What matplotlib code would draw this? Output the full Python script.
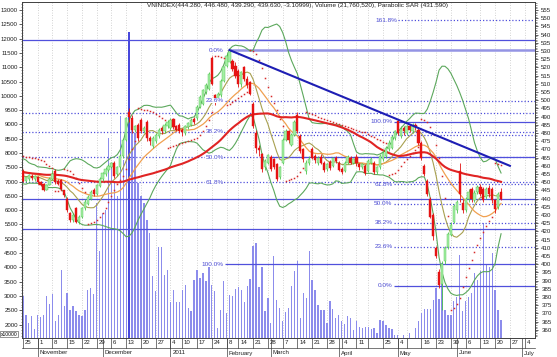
import numpy as np
import pandas as pd
import matplotlib
matplotlib.use("Agg")
import matplotlib.pyplot as plt
from matplotlib import transforms

plt.rcParams['font.family'] = ['Liberation Sans', 'DejaVu Sans']

# ---------------- data ----------------
holidays = ['2011-01-03', '2011-01-31', '2011-02-01', '2011-02-02', '2011-02-03',
            '2011-02-04', '2011-02-07', '2011-04-12', '2011-05-02', '2011-05-03']
axis_start, axis_end = '2010-10-25', '2011-07-08'

prior_closes = [468, 466, 463, 465, 461, 459, 457, 458, 455, 452,
                450, 453, 456, 455, 452, 449, 451, 454, 456, 453,
                451, 448, 450, 453, 455, 458, 456, 454, 457, 460,
                464, 462, 465, 461, 459, 462, 458, 460, 456, 457,
                454, 458, 455, 452, 454, 451, 455, 453, 456, 454]

opens = [457, 451, 452, 454, 452, 453, 450, 449, 445.5, 448.5,
         452, 457, 451, 451.5, 445, 440, 431, 427, 434, 426,
         429, 434, 437, 440, 445, 443, 447.5, 452, 455, 457.5,
         459.5, 462, 455, 459, 466, 476, 493, 489, 482, 485,
         488, 481, 487, 477, 472, 475, 478, 483, 481, 484,
         483, 488.5, 484, 485, 482, 480, 483.5, 485, 488.5, 489,
         496, 498, 505, 507, 526, 503, 500, 503, 512, 521,
         523.5, 524, 521, 518, 510, 520, 513, 511, 498, 480,
         471, 467.5, 459, 462, 465.5, 464, 461, 453, 462, 476,
         481, 473, 479, 491, 478, 470, 457, 462, 470, 466,
         462, 465.5, 462, 458, 462.5, 460, 465, 462, 458, 457,
         462, 465, 462, 465.5, 461, 459, 460, 457, 462, 462,
         456, 459, 464, 466, 470, 471, 477, 487.5, 478, 483,
         480, 484, 481, 485, 482, 474, 460, 451, 440, 430,
         410, 395, 388, 402, 410.5, 418, 426, 433, 457, 437.5,
         433, 440, 446, 439, 444, 447, 446, 441, 446.5, 446,
         439, 435, 444.28]
highs = [458, 454, 455, 455, 454.5, 454, 451, 449.5, 449, 453,
         457.5, 458, 452, 452, 445.5, 441, 432, 431.5, 435, 430,
         435, 439.5, 442, 445, 446.5, 449, 453, 456.5, 459, 461,
         462.5, 463, 460, 467, 477, 490, 495, 491, 485, 486,
         489, 484, 488, 478, 478, 480, 483, 484, 486, 488,
         489, 489, 485, 486, 483, 485, 487, 489, 490, 497,
         503, 507, 510.5, 517, 527, 504, 505, 513, 521, 528.5,
         530.6, 525, 523.5, 519, 518, 521, 514.5, 512, 499, 482,
         472.5, 468, 464, 467.5, 466.5, 465, 462, 460, 477, 482.5,
         482, 480, 488, 493, 479.5, 471, 463.5, 466, 471.5, 467,
         466, 467, 463, 462, 463.5, 465.5, 466, 463, 459, 463,
         466.5, 466, 465, 467, 462, 462, 461, 464, 465.5, 463,
         460, 467.5, 469.5, 472, 475.5, 479, 482, 488.5, 484, 484,
         485, 485.5, 486, 486, 483, 475, 461, 452, 441, 431,
         411, 397, 402, 411, 419.5, 425.5, 437, 439, 462, 440,
         441, 446, 447, 445, 448.5, 449, 447, 447, 448, 447,
         440, 444, 446.48]
lows = [450, 450, 451, 451.5, 451, 449, 447.5, 444.5, 445, 448,
        451.5, 449, 448, 445.5, 441, 432, 426, 425.5, 425, 424.5,
        428, 433, 436, 439, 441.5, 442, 447, 451, 454, 456.5,
        458.5, 452.5, 454, 458, 465, 475, 487, 480, 480.5, 475,
        480, 480, 475, 472.5, 471, 474, 477, 479.5, 480, 483,
        482, 482.5, 481, 480, 478, 479, 482.5, 484, 485.5, 488,
        495, 497, 504, 506, 509, 497, 499, 502, 511, 520,
        523, 518, 513.5, 508, 508, 512, 507.5, 503, 483, 468,
        466, 456.5, 457.5, 461, 457, 458, 450.5, 452, 461, 475,
        474, 472, 478, 480, 468, 462.5, 455, 460.5, 464, 461.5,
        460.5, 461, 456, 457, 457.5, 459, 461.5, 457, 455, 456,
        461, 461, 461, 460, 457.5, 458, 454.5, 456, 461, 455,
        455, 458, 463, 465, 469, 470, 476, 478.5, 477, 479,
        479, 480.5, 480, 482, 472.5, 463.5, 453.5, 441.5, 428, 415,
        403.5, 385.5, 372, 400, 409, 417, 425, 431, 438, 431.5,
        432, 438, 438, 438, 443, 441.5, 438, 440, 441, 437.5,
        431.5, 433.5, 439.29]
closes = [451, 453, 454.5, 452.5, 453.5, 450, 448.5, 445, 448.5, 452,
          455, 450, 449, 446, 442, 433, 427, 430, 426, 429,
          434, 438, 441, 444, 443, 448, 452, 455.5, 458, 460,
          461.5, 454, 459, 466, 476, 489, 490, 482, 484, 477,
          481, 483, 477, 475, 477, 479, 482, 481, 485, 487,
          488, 483.5, 482, 481, 480.5, 484, 486, 488, 487, 496,
          502, 506, 509, 516, 510, 501, 504, 512, 520, 527,
          529.5, 519, 515, 510, 517, 513, 509, 504, 484, 471,
          469.5, 458, 463, 466.5, 458, 459, 452, 459, 476, 481,
          476, 479, 487, 481, 469, 464, 462, 464, 465, 463.5,
          465, 462, 457.5, 461, 458.5, 464.5, 463, 457.5, 456, 462,
          465.5, 462, 464, 461.5, 459, 461, 455.5, 463, 464, 456,
          459, 466, 468, 471, 474, 477.5, 481, 480, 482.5, 481,
          484, 482, 485, 483.5, 474, 465, 455, 443, 429, 417,
          405, 387.5, 400, 410, 418.5, 424, 435.5, 438, 443, 433,
          440, 444, 439.5, 443.5, 447, 443, 439, 446, 443, 439,
          433.5, 442.74, 439.63]
volumes = [2990, 2350, 2040, 2290, 1850, 2350, 2270, 2350, 2990, 2730,
           3070, 2120, 2350, 3900, 2640, 3100, 2500, 2640, 2470, 2350,
           2290, 2520, 3200, 3280, 3080, 6240, 4560, 5900, 6000, 8520,
           7650, 7000, 6500, 9300, 7760, 9000, 12230, 9200, 8700, 6950,
           6480, 6250, 5660, 5200, 3690, 3160, 4730, 4730, 3740, 3900,
           2800, 3220, 2800, 2800, 3220, 3400, 2580, 2490, 3570, 3900,
           3630, 3800, 3510, 4150, 3400, 3160, 1880, 2520, 3510, 2410,
           3050, 2990, 3240, 3310, 3220, 2800, 3340, 3590, 4750, 4870,
           3300, 4010, 2470, 2930, 2060, 4400, 2870, 2580, 2120, 2430,
           2580, 3360, 3860, 4210, 2230, 3100, 2930, 4560, 3570, 3220,
           2700, 2520, 2500, 2060, 2810, 2550, 2230, 2320, 2120, 2035,
           2310, 2230, 1800, 2120, 1920, 1870, 1920, 1920, 1830, 1870,
           1700, 2150, 2120, 2000, 1870, 1830, 1650, 1650, 1500, 1650,
           1450, 1700, 1500, 1870, 2120, 2400, 2550, 2550, 2550, 2870,
           3280, 2900, 4150, 2520, 2350, 2350, 2840, 2960, 4420, 2470,
           2820, 2960, 3100, 3800, 3570, 3860, 5550, 4090, 4010, 4510,
           3220, 2520, 2170]

solid_levels = [536.5, 440.0, 421.3]
dotted_levels = [492.4]
partial_solid = (465.5, 84)      # level, start index
partial_dotted = (478.6, 84)
fib1_high, fib1_low = 530.6, 400.0
fib1_ratios = [0.0, 0.236, 0.382, 0.5, 0.618, 1.0]
fib2_low, fib2_high = 387.0, 487.0
fib2_ratios = [0.0, 0.236, 0.382, 0.5, 0.618, 1.0, 1.618]
trend_idx = [70, 165]
trend_val = [530.6, 460.0]
month_names = ['November', 'December', '2011', 'February', 'March', 'April', 'May', 'June', 'July']
hidden_week_labels = ['2011-04-18', '2011-05-09']
title = ("VNINDEX(444.280, 446.480, 439.290, 439.630, -3.10999), "
         "Volume (21,760,520), Parabolic SAR (431.590)")

# ---------------- calendar ----------------
dates = pd.bdate_range(axis_start, axis_end)
dates = dates[~dates.isin(pd.to_datetime(holidays))]
n = len(closes)
x = np.arange(n)
O, H, Lo, C = map(np.array, (opens, highs, lows, closes))
V = np.array(volumes)

allc = pd.Series(list(prior_closes) + list(closes))
sma10 = allc.rolling(10).mean().values[-n:]
sma20 = allc.rolling(20).mean().values[-n:]
sma50 = allc.rolling(50).mean().values[-n:]
sd20 = allc.rolling(20).std(ddof=0).values[-n:]
bb_up = sma20 + 2 * sd20
bb_dn = sma20 - 2 * sd20


def psar(high, low, start, af0=0.02, afmax=0.2):
    out = np.zeros(len(high))
    trend, ep, af, s = -1, low[0], af0, start
    for i in range(len(high)):
        if i > 0:
            s = s + af * (ep - s)
            if trend == -1:
                s = max(s, high[i - 1], high[max(i - 2, 0)])
                if high[i] > s:
                    trend, s, ep, af = 1, ep, high[i], af0
                elif low[i] < ep:
                    ep, af = low[i], min(af + af0, afmax)
            else:
                s = min(s, low[i - 1], low[max(i - 2, 0)])
                if low[i] < s:
                    trend, s, ep, af = -1, ep, low[i], af0
                elif high[i] > ep:
                    ep, af = high[i], min(af + af0, afmax)
        out[i] = s
    return out


sar = psar(H, Lo, 466.0)

# ---------------- figure ----------------
W, Hh = 557, 357
fig = plt.figure(figsize=(W / 100, Hh / 100), dpi=100)
fig.patch.set_facecolor('white')
L_, R_, B_, T_ = 22 / W, 535 / W, 1 - 338 / Hh, 1 - 2 / Hh
axv = fig.add_axes([L_, B_, R_ - L_, T_ - B_])
axp = axv.twinx()
xmin, xmax = -0.3, 173.5
axv.set_xlim(xmin, xmax)
axp.set_xlim(xmin, xmax)
axv.set_ylim(1531, 13280)
axp.set_ylim(355, 559.9)

# week / month ticks
wk = pd.Series(range(len(dates)), index=dates)
week_first = wk.groupby([dates.isocalendar().year.values, dates.isocalendar().week.values]).min().values
month_first = wk.groupby([dates.year, dates.month]).min().values[1:]

for w in week_first:
    axv.axvline(w, color='#c4c4c4', lw=0.6, ls=(0, (1, 2)), zorder=0)

# volume
vcol = ['#4848dc' if v > 10000 else '#8c8cec' for v in V]
axv.bar(x, V, width=0.45, color=vcol, zorder=1)

# horizontal levels
line_c = '#5050dc'
dot = (0, (1, 1.6))
for lv in solid_levels:
    axp.axhline(lv, color=line_c, lw=0.9, zorder=2)
for lv in dotted_levels:
    axp.axhline(lv, color=line_c, lw=0.9, ls=dot, zorder=2)
axp.hlines(partial_solid[0], partial_solid[1], xmax, color=line_c, lw=0.9, zorder=2)
axp.hlines(partial_dotted[0], partial_dotted[1], xmax, color=line_c, lw=0.9, ls=dot, zorder=2)

lab_kw = dict(fontsize=4.6, color='#4a4ad2', va='center', ha='right', zorder=6)
for r in fib1_ratios:
    lv = fib1_high - r * (fib1_high - fib1_low)
    if r == 0.0:
        axp.hlines(lv, 70, xmax, color='#9494e4', lw=1.8, zorder=2)
    elif r == 1.0:
        axp.hlines(lv, 68.5, xmax, color=line_c, lw=0.9, zorder=2)
    elif r == 0.236:
        axp.hlines(lv, 68.5, xmax, color=line_c, lw=0.9, ls=dot, zorder=2)
    else:
        axp.hlines(lv, xmin, xmax, color=line_c, lw=0.9, ls=dot, zorder=2)
    axp.text(68, lv, f"{r * 100:.1f}%", bbox=dict(fc='white', ec='none', pad=0.2), **lab_kw)

for r in fib2_ratios:
    lv = fib2_low + r * (fib2_high - fib2_low)
    solid = r in (0.0, 1.0)
    start = 127.2 if r > 1 else 125.6
    axp.hlines(lv, start, xmax, color=line_c, lw=0.9, ls='-' if solid else dot, zorder=2)
    axp.text(start - 0.4, lv, f"{r * 100:.1f}%", **lab_kw)

# indicators
axp.plot(x, bb_up, color='#5ca85c', lw=0.8, zorder=3)
axp.plot(x, bb_dn, color='#5ca85c', lw=0.8, zorder=3)
axp.plot(x, sma10, color='#a8a050', lw=0.8, zorder=3)
axp.plot(x, sma20, color='#f0a050', lw=0.9, zorder=3)
axp.plot(x, sma50, color='#e02424', lw=1.5, zorder=3)

# candles
up = C >= O
wick_c = np.where(up, '#4cc44c', '#e01010')
fill_c = np.where(up, '#a6eea6', '#e81414')
axp.vlines(x, Lo, H, colors=wick_c, lw=0.6, zorder=4)
axp.bar(x, np.maximum(np.abs(C - O), 0.5), bottom=np.minimum(O, C), width=0.75,
        color=fill_c, edgecolor=wick_c, lw=0.3, zorder=5)

# parabolic SAR
axp.plot(x, sar, ls='none', marker='s', ms=1.1, mew=0, color='#d62a2a', zorder=5)

# trend line
axp.plot(trend_idx, trend_val, color='#1e1eb4', lw=1.5, zorder=6)

# axes styling
for ax in (axv, axp):
    for s in ax.spines.values():
        s.set_color('#404040')
        s.set_linewidth(0.6)
    ax.set_xticks([])
axv.set_yticks(np.arange(2000, 13001, 500))
axv.set_yticks(np.arange(1600, 13281, 100), minor=True)
axv.tick_params(axis='y', which='major', labelsize=4.4, length=2, width=0.5, pad=1, colors='#202020')
axv.tick_params(axis='y', which='minor', length=1, width=0.4, colors='#404040')
axp.set_yticks(np.arange(360, 556, 5))
axp.set_yticks(np.arange(356, 560, 1), minor=True)
axp.tick_params(axis='y', which='major', labelsize=4.4, length=2.5, width=0.5, pad=2, colors='#202020')
axp.tick_params(axis='y', which='minor', length=1.2, width=0.4, colors='#404040')

# date rows under the plot
tr = transforms.blended_transform_factory(axv.transData, fig.transFigure)
y0 = B_
y_wk = 1 - 348 / Hh
y_mo = 1 - 357 / Hh
for w in week_first:
    axv.plot([w, w], [y0, y_wk], color='#404040', lw=0.5, transform=tr, clip_on=False)
    d = dates[w]
    if d.strftime('%Y-%m-%d') in hidden_week_labels:
        continue
    axv.text(w + 0.6, 1 - 343 / Hh, str(d.day), transform=tr, fontsize=4.4,
             va='center', ha='left', color='#202020')
for m, name in zip(month_first, month_names):
    axv.plot([m, m], [y0, y_mo], color='#404040', lw=0.5, transform=tr, clip_on=False)
    axv.text(m + 0.6, 1 - 353 / Hh, name, transform=tr, fontsize=4.4,
             va='center', ha='left', color='#202020')
fig.add_artist(plt.Line2D([L_, R_], [y_wk, y_wk], color='#404040', lw=0.5, transform=fig.transFigure))

fig.text(1 / W, 1 - 334 / Hh, 'x10000', fontsize=3.6, va='center', ha='left',
         bbox=dict(fc='white', ec='#404040', lw=0.4, pad=0.4))
fig.text(147 / W, 1 - 6 / Hh, title, fontsize=4.6, va='center', ha='left', color='#202020')

fig.savefig('out.png', dpi=100, facecolor='white')
